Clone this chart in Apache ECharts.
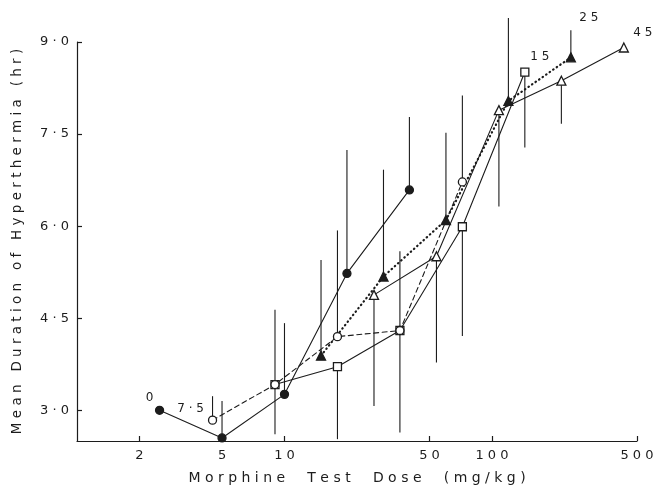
<!DOCTYPE html>
<html>
<head>
<meta charset="utf-8">
<script src="https://cdn.jsdelivr.net/npm/echarts@6/dist/echarts.min.js"></script>
<style>
  html, body { margin: 0; padding: 0; background: #fff; }
  #chart { width: 659px; height: 487px; }
</style>
</head>
<body>
<div id="chart"></div>
<script>
// Morphine pretreatment groups (mg/kg) and their test-dose curves
const groupNames = ['0', '7.5', '15', '25', '45'];

const doses0  = [2.5, 5, 10, 20, 40];
const hours0  = [3.0, 2.55, 3.26, 5.23, 6.59];
const errEnd0 = [null, 3.15, 4.42, 7.24, 7.78];

const doses7  = [4.5, 9, 18, 36, 72];
const hours7  = [2.84, 3.42, 4.20, 4.30, 6.72];
const errEnd7 = [3.23, 4.64, 5.93, 5.59, 8.13];

const doses15  = [9, 18, 36, 72, 144];
const hours15  = [3.42, 3.71, 4.30, 5.99, 8.51];
const errEnd15 = [2.61, 2.53, 2.64, 4.21, 7.28];

const doses25  = [15, 30, 60, 120, 240];
const hours25  = [3.89, 5.18, 6.10, 8.04, 8.75];
const errEnd25 = [5.45, 6.92, 7.52, 9.39, 9.19];

const doses45  = [27, 54, 108, 216, 432];
const hours45  = [4.88, 5.51, 7.89, 8.37, 8.91];
const errEnd45 = [3.07, 3.78, 6.32, 7.67, null];

const xTickValues = [2, 5, 10, 50, 100, 500];
const yTickValues = [3.0, 4.5, 6.0, 7.5, 9.0];

const INK = '#1c1c1c';
const FONT = 'DejaVu Sans';
// letter-spaced text; wordGap sets how many spaces separate words
const spaced = (s, wordGap = 1) =>
  s.split(' ').map(w => w.split('').join(' ')).join(' '.repeat(wordGap + 2));
const lg = v => Math.log10(v);

// Per-group drawing style; label sits beside the first or last point.
// Order sets stacking: later groups draw on top.
const groups = [
  { name: groupNames[0], doses: doses0,  hours: hours0,  err: errEnd0,
    symbol: 'circle',   filled: true,  dash: 'solid',       width: 1.1, size: 8,
    labelAt: 0, labelOffset: [-10, -12] },
  { name: groupNames[2], doses: doses15, hours: hours15, err: errEnd15,
    symbol: 'rect',     filled: false, dash: 'solid',       width: 1.1, size: 8,
    labelAt: 4, labelOffset: [15, -15] },
  { name: groupNames[1], doses: doses7,  hours: hours7,  err: errEnd7,
    symbol: 'circle',   filled: false, dash: [5, 3.5],      width: 1.1, size: 8,
    labelAt: 0, labelOffset: [-22, -11] },
  { name: groupNames[3], doses: doses25, hours: hours25, err: errEnd25,
    symbol: 'triangle', filled: true,  dash: [0.5, 3.8],    width: 2.2, size: 9,
    labelAt: 4, labelOffset: [18, -39] },
  { name: groupNames[4], doses: doses45, hours: hours45, err: errEnd45,
    symbol: 'triangle', filled: false, dash: 'solid',       width: 1.1, size: 9,
    labelAt: 4, labelOffset: [19, -15] }
];

const labelStyle = { fontFamily: FONT, fontSize: 12, color: INK };

const lineSeries = groups.map(g => ({
  type: 'line',
  name: g.name,
  symbol: g.symbol,
  symbolSize: g.size,
  showAllSymbol: true,
  animation: false,
  z: 3,
  emphasis: { disabled: true },
  lineStyle: { color: INK, width: g.width, type: g.dash, cap: 'round' },
  itemStyle: { color: g.filled ? INK : '#fff', borderColor: INK, borderWidth: 1.3 },
  data: g.doses.map((d, i) => {
    const item = { value: [lg(d), g.hours[i]] };
    if (i === g.labelAt) {
      item.label = Object.assign({
        show: true, position: 'inside', offset: g.labelOffset,
        formatter: spaced(g.name.replace('.', '·'))
      }, labelStyle);
    }
    return item;
  })
}));

// Vertical error bars, drawn from each mean to its bar end
const errData = [];
groups.forEach(g => g.doses.forEach((d, i) => {
  if (g.err[i] != null) errData.push([lg(d), g.hours[i], g.err[i]]);
}));

const errSeries = {
  type: 'custom',
  animation: false,
  z: 2,
  silent: true,
  encode: { x: 0, y: [1, 2] },
  data: errData,
  renderItem: (params, api) => {
    const a = api.coord([api.value(0), api.value(1)]);
    const b = api.coord([api.value(0), api.value(2)]);
    return {
      type: 'line',
      shape: { x1: a[0], y1: a[1], x2: b[0], y2: b[1] },
      style: { stroke: INK, lineWidth: 1.1 }
    };
  }
};

const chart = echarts.init(document.getElementById('chart'), null, { renderer: 'canvas' });
chart.setOption({
  backgroundColor: '#fff',
  animation: false,
  grid: { left: 77, right: 22, top: 42, bottom: 46, containLabel: false, outerBoundsMode: 'none' },
  xAxis: {
    type: 'value',
    min: 0,
    max: lg(500),
    axisLine: { show: true, lineStyle: { color: INK, width: 1.2 } },
    axisTick: { show: true, inside: true, length: 5, customValues: xTickValues.map(lg),
                lineStyle: { color: INK, width: 1.2 } },
    axisLabel: { customValues: xTickValues.map(lg), margin: 8,
                 formatter: v => spaced(String(Math.round(Math.pow(10, v)))),
                 fontFamily: FONT, fontSize: 13, color: INK },
    splitLine: { show: false },
    name: spaced('Morphine Test Dose (mg/kg)', 3),
    nameLocation: 'middle',
    nameGap: 30,
    nameTextStyle: { fontFamily: FONT, fontSize: 14, color: INK }
  },
  yAxis: {
    type: 'value',
    min: 2.5,
    max: 9.0,
    axisLine: { show: true, lineStyle: { color: INK, width: 1.2 } },
    axisTick: { show: true, inside: true, length: 5, customValues: yTickValues,
                lineStyle: { color: INK, width: 1.2 } },
    axisLabel: { customValues: yTickValues, margin: 8,
                 formatter: v => spaced(v.toFixed(1).replace('.', '·')),
                 fontFamily: FONT, fontSize: 13, color: INK },
    splitLine: { show: false },
    name: spaced('Mean Duration of Hyperthermia (hr)'),
    nameLocation: 'middle',
    nameGap: 53,
    nameTextStyle: { fontFamily: FONT, fontSize: 13.5, color: INK }
  },
  series: [errSeries].concat(lineSeries)
});
</script>
</body>
</html>
